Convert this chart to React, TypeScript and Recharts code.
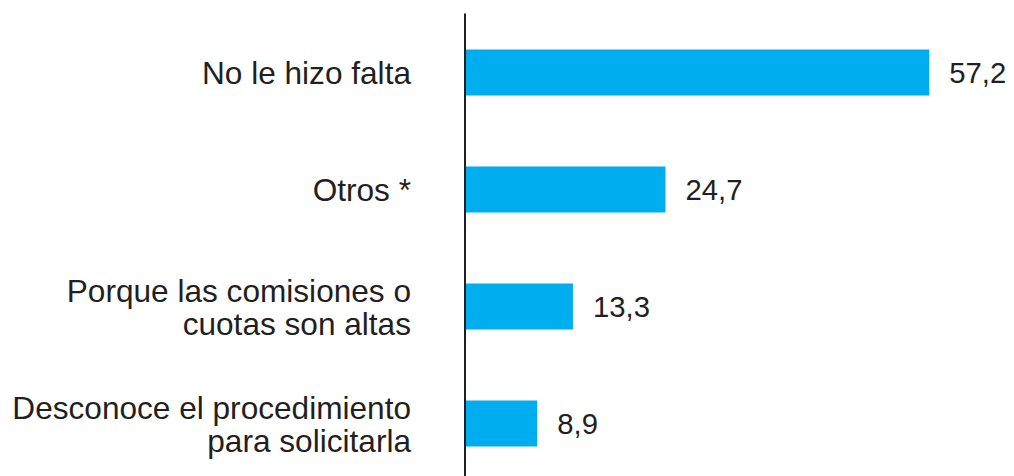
import React from "react";
import { BarChart, Bar, XAxis, YAxis, LabelList } from "recharts";

const categories = [
  "No le hizo falta",
  "Otros *",
  "Porque las comisiones o\ncuotas son altas",
  "Desconoce el procedimiento\npara solicitarla",
];
const values = [57.2, 24.7, 13.3, 8.9];

const data = categories.map((name, i) => ({ name, value: values[i] }));

const FONT = "'Liberation Sans', Arial, Helvetica, sans-serif";
const TEXT = "#231f20";

const CategoryTick = (props: any) => {
  const { x, y, payload } = props;
  const lines = String(payload.value).split("\n");
  const n = lines.length;
  const lh = 33;
  return (
    <text
      x={x}
      y={y}
      textAnchor="end"
      fill={TEXT}
      fontSize={31.6}
      fontFamily={FONT}
    >
      {lines.map((ln, i) => (
        <tspan key={i} x={x} y={y + 12 + (i - (n - 1) / 2) * lh}>
          {ln}
        </tspan>
      ))}
    </text>
  );
};

const ValueLabel = (props: any) => {
  const { x, y, width, height, value } = props;
  return (
    <text
      x={x + width + 20}
      y={y + height / 2}
      dy="0.35em"
      textAnchor="start"
      fill={TEXT}
      fontSize={29.3}
      fontFamily={FONT}
    >
      {String(value).replace(".", ",")}
    </text>
  );
};

export default function App() {
  return (
    <BarChart
      width={1006}
      height={480}
      data={data}
      layout="vertical"
      margin={{ top: 5.5, right: 62, bottom: 6.5, left: 0 }}
    >
      <XAxis type="number" domain={[0, 60]} hide />
      <YAxis
        type="category"
        dataKey="name"
        width={457}
        axisLine={{ stroke: TEXT, strokeWidth: 2 }}
        tickLine={false}
        tickSize={0}
        tickMargin={54}
        tick={<CategoryTick />}
        interval={0}
      />
      <Bar dataKey="value" fill="#00aeef" barSize={46} isAnimationActive={false}>
        <LabelList dataKey="value" content={<ValueLabel />} />
      </Bar>
    </BarChart>
  );
}
